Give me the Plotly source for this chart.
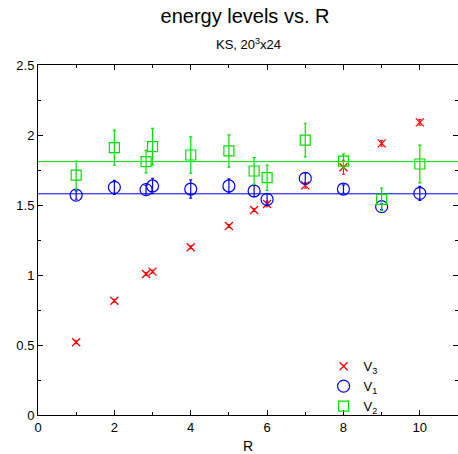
import plotly.graph_objects as go

R = [1, 2, 2.83, 3, 4, 5, 5.66, 6, 7, 8, 9, 10]
V3 = [0.52, 0.816, 1.007, 1.024, 1.198, 1.35, 1.464, 1.507, 1.64, 1.77, 1.94, 2.09]
V3_err = [0.01, 0.01, 0.01, 0.01, 0.01, 0.01, 0.01, 0.02, 0.02, 0.05, 0.02, 0.02]
V1 = [1.571, 1.626, 1.61, 1.636, 1.614, 1.636, 1.60, 1.54, 1.69, 1.614, 1.488, 1.583]
V1_err = [0.03, 0.05, 0.03, 0.055, 0.065, 0.05, 0.04, 0.04, 0.04, 0.03, 0.02, 0.05]
V2 = [1.714, 1.91, 1.81, 1.917, 1.857, 1.886, 1.743, 1.695, 1.964, 1.814, 1.54, 1.793]
V2_err = [0.10, 0.125, 0.08, 0.13, 0.13, 0.115, 0.095, 0.09, 0.12, 0.05, 0.08, 0.135]
fit_x = [0, 11]
fit_V2 = [1.81, 1.81]
fit_V1 = [1.58, 1.58]

RED = "#ff0000"
BLUE = "#0000ff"
GREEN = "#00e000"

fig = go.Figure()
fig.add_trace(go.Scatter(x=fit_x, y=fit_V2, mode="lines", line=dict(color=GREEN, width=1),
                         showlegend=False, hoverinfo="skip"))
fig.add_trace(go.Scatter(x=fit_x, y=fit_V1, mode="lines", line=dict(color=BLUE, width=1),
                         showlegend=False, hoverinfo="skip"))
fig.add_trace(go.Scatter(x=R, y=V3, mode="markers", name="V<sub>3</sub>",
                         marker=dict(symbol="x-thin", size=8, line=dict(color=RED, width=1.3), color=RED),
                         error_y=dict(type="data", array=V3_err, color=RED, thickness=1, width=1.5)))
fig.add_trace(go.Scatter(x=R, y=V1, mode="markers", name="V<sub>1</sub>",
                         marker=dict(symbol="circle-open", size=12, color=BLUE, line=dict(width=1.2)),
                         error_y=dict(type="data", array=V1_err, color=BLUE, thickness=1.2, width=1.5)))
fig.add_trace(go.Scatter(x=R, y=V2, mode="markers", name="V<sub>2</sub>",
                         marker=dict(symbol="square-open", size=10, color=GREEN, line=dict(width=1.2)),
                         error_y=dict(type="data", array=V2_err, color=GREEN, thickness=1.2, width=1.5)))

axis_common = dict(showgrid=False, zeroline=False, showline=True, linecolor="black", linewidth=1,
                   ticks="inside", ticklen=5, tickcolor="black", mirror="ticks",
                   tickfont=dict(size=13, color="black"))
fig.update_xaxes(range=[0, 11], dtick=2, tick0=0,
                 minor=dict(ticks="inside", dtick=1, ticklen=3, tickcolor="black"),
                 title=dict(text="R", font=dict(size=14, color="black"), standoff=9),
                 **axis_common)
fig.update_yaxes(range=[0, 2.5], dtick=0.5, tick0=0,
                 minor=dict(ticks="inside", dtick=0.25, ticklen=3, tickcolor="black"),
                 **axis_common)

fig.update_layout(
    width=458, height=454,
    margin=dict(l=38, r=0, t=65, b=39),
    plot_bgcolor="white", paper_bgcolor="white",
    font=dict(family="Liberation Sans, Arial, sans-serif", color="black"),
    title=dict(text="energy levels vs. R", x=0.535, xanchor="center", y=0.965, yanchor="middle",
               font=dict(size=20, color="black")),
    annotations=[dict(text="KS, 20<sup>3</sup>x24", xref="paper", yref="paper", x=0.5, y=1.06,
                      xanchor="center", yanchor="middle", showarrow=False,
                      font=dict(size=13, color="black"))],
    legend=dict(x=0.68, y=0.182, xanchor="left", yanchor="top", bgcolor="rgba(0,0,0,0)",
                font=dict(size=13, color="black"), tracegroupgap=0, itemwidth=30),
)

fig.write_html("out.html")
